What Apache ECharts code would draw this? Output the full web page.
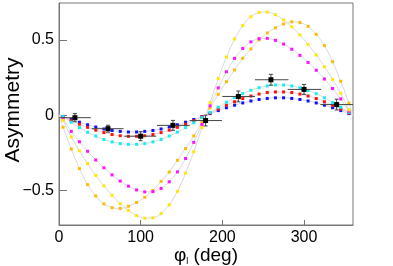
<!DOCTYPE html>
<html><head><meta charset="utf-8">
<script src="https://cdn.jsdelivr.net/npm/echarts@6/dist/echarts.min.js"></script>
<style>html,body{margin:0;padding:0;background:#fff}#c{width:393px;height:266px}</style>
</head><body><div id="c"></div>
<script>
const phi = [5,15,25,35,45,55,65,75,85,95,105,115,125,135,145,155,165,175,185,195,205,215,225,235,245,255,265,275,285,295,305,315,325,335,345,355];
const yellowVals = [-0.035,-0.145,-0.237,-0.322,-0.400,-0.470,-0.533,-0.588,-0.633,-0.667,-0.685,-0.682,-0.654,-0.595,-0.506,-0.386,-0.243,-0.083,
  0.083,0.243,0.386,0.506,0.595,0.654,0.682,0.685,0.667,0.633,0.588,0.533,0.470,0.400,0.322,0.237,0.145,0.035];
const orangeVals = [-0.080,-0.225,-0.355,-0.462,-0.537,-0.590,-0.615,-0.620,-0.605,-0.580,-0.546,-0.500,-0.440,-0.378,-0.300,-0.222,-0.138,-0.048,
  0.048,0.138,0.222,0.300,0.378,0.440,0.500,0.546,0.580,0.605,0.620,0.615,0.590,0.537,0.462,0.355,0.225,0.080];
const magentaVals = [-0.026,-0.108,-0.177,-0.240,-0.298,-0.350,-0.397,-0.438,-0.472,-0.497,-0.510,-0.508,-0.487,-0.443,-0.377,-0.288,-0.181,-0.062,
  0.062,0.181,0.288,0.377,0.443,0.487,0.508,0.510,0.497,0.472,0.438,0.397,0.350,0.298,0.240,0.177,0.108,0.026];
const cyanVals = [-0.010,-0.047,-0.083,-0.114,-0.139,-0.162,-0.178,-0.189,-0.194,-0.194,-0.189,-0.178,-0.161,-0.139,-0.113,-0.083,-0.051,-0.017,
  0.018,0.053,0.086,0.117,0.143,0.165,0.182,0.194,0.200,0.200,0.194,0.182,0.164,0.142,0.115,0.084,0.052,0.018];
const redVals = [-0.012,-0.037,-0.060,-0.081,-0.100,-0.116,-0.129,-0.137,-0.141,-0.141,-0.137,-0.129,-0.116,-0.100,-0.081,-0.060,-0.037,-0.012,
  0.014,0.040,0.066,0.089,0.110,0.127,0.140,0.150,0.154,0.154,0.150,0.140,0.127,0.110,0.089,0.066,0.040,0.014];
const blueVals = [-0.010,-0.029,-0.047,-0.064,-0.079,-0.092,-0.102,-0.108,-0.112,-0.112,-0.108,-0.102,-0.092,-0.079,-0.064,-0.047,-0.029,-0.010,
  0.010,0.030,0.049,0.066,0.081,0.094,0.104,0.111,0.115,0.115,0.111,0.104,0.094,0.081,0.066,0.049,0.030,0.010];

const dataX = [19.5,60,100,139.5,179.5,219.6,259.5,300,340];
const dataY = [-0.017,-0.090,-0.140,-0.068,-0.036,0.124,0.235,0.171,0.070];
const dataXLo = [0,40,80,120,160,200,240,280,320];
const dataXHi = [39,79,119,160,199.5,240,281,321,360];
const dataYErr = [0.027,0.023,0.030,0.033,0.036,0.036,0.036,0.033,0.036];

const xTicks = [0,100,200,300];
const yTicks = [-0.5,0,0.5];

const curves = [
  {vals: blueVals, color:'#1010ff'},
  {vals: redVals, color:'#ff1010'},
  {vals: cyanVals, color:'#10f0f0'},
  {vals: orangeVals, color:'#ffbb00'},
  {vals: magentaVals, color:'#ff10ff'},
  {vals: yellowVals, color:'#ffe800'}
];

const FONT = 'Liberation Sans, Arial, Helvetica, sans-serif';
const series = curves.map(c => ({
  type:'line', smooth:0.35, symbol:'rect', symbolSize:3,
  lineStyle:{color:'#d9d9d9', width:1},
  itemStyle:{color:c.color},
  z:2, animation:false,
  data: [{value:[0,0], symbol:'none'}].concat(phi.map((p,i)=>[p,c.vals[i]])).concat([{value:[360,0], symbol:'none'}])
}));

series.push({
  type:'custom', z:5, animation:false,
  data: dataX.map((x,i)=>[x, dataY[i], dataXLo[i], dataXHi[i], dataY[i]-dataYErr[i], dataY[i]+dataYErr[i]]),
  renderItem: function(params, api){
    const c = api.coord([api.value(0), api.value(1)]);
    const l = api.coord([api.value(2), api.value(1)]);
    const r = api.coord([api.value(3), api.value(1)]);
    const lo = api.coord([api.value(0), api.value(4)]);
    const hi = api.coord([api.value(0), api.value(5)]);
    const st = {stroke:'#444', lineWidth:1};
    return {type:'group', children:[
      {type:'line', shape:{x1:l[0], y1:c[1], x2:r[0], y2:c[1]}, style:st},
      {type:'line', shape:{x1:c[0], y1:lo[1], x2:c[0], y2:hi[1]}, style:st},
      {type:'line', shape:{x1:c[0]-2, y1:lo[1], x2:c[0]+2, y2:lo[1]}, style:st},
      {type:'line', shape:{x1:c[0]-2, y1:hi[1], x2:c[0]+2, y2:hi[1]}, style:st},
      {type:'rect', shape:{x:c[0]-2.5, y:c[1]-2.5, width:5, height:5}, style:{fill:'#000'}}
    ]};
  }
});

const chart = echarts.init(document.getElementById('c'), null, {renderer:'canvas'});
chart.setOption({
  animation:false,
  backgroundColor:'#fff',
  grid:{left:59, right:40, top:3, bottom:41, show:true, borderColor:'#777', borderWidth:1, outerBoundsMode:'none', containLabel:false},
  xAxis:{
    type:'value', min:0, max:360,
    name:'{a|φ}{b|l}{a| (deg)}', nameLocation:'middle', nameGap:20, nameMoveOverlap:false,
    nameTextStyle:{rich:{a:{fontSize:19, fontFamily:FONT, color:'#000'}, b:{fontSize:9, fontFamily:FONT, color:'#000', padding:[12,0,0,0]}}},
    axisLine:{onZero:false, lineStyle:{color:'#777', width:1}},
    axisTick:{inside:true, length:5, customValues:xTicks, lineStyle:{color:'#777'}},
    axisLabel:{customValues:xTicks, fontSize:16, fontFamily:FONT, color:'#000', margin:5},
    splitLine:{show:false}
  },
  yAxis:{
    type:'value', min:-0.73, max:0.745,
    name:'Asymmetry', nameLocation:'middle', nameGap:35, nameMoveOverlap:false,
    nameTextStyle:{fontSize:21, fontFamily:FONT, color:'#000', padding:[0,0,0,8]},
    axisLine:{show:true, onZero:false, lineStyle:{color:'#777', width:1}},
    axisTick:{show:true, inside:true, length:8, customValues:yTicks, lineStyle:{color:'#777'}},
    axisLabel:{customValues:yTicks, fontSize:16, fontFamily:FONT, color:'#000', margin:5,
      formatter: v => (v===0 ? '0' : String(v).replace('-', '\u2212'))},
    splitLine:{show:false}
  },
  series: series
});
</script></body></html>
